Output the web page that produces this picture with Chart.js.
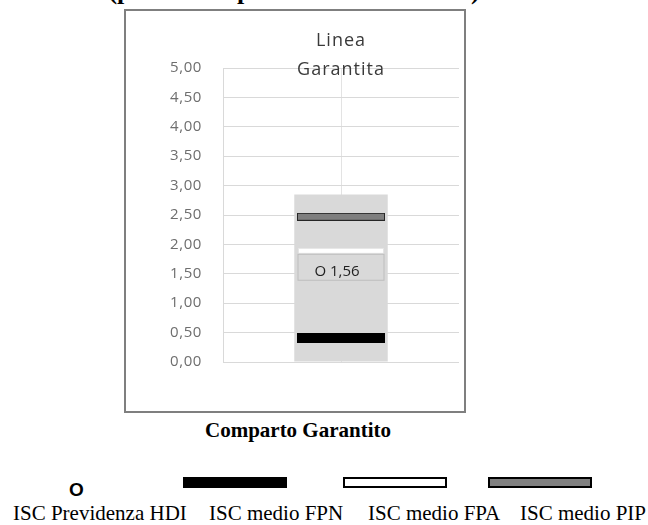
<!DOCTYPE html>
<html>
<head>
<meta charset="utf-8">
<script src="https://cdn.jsdelivr.net/npm/chart.js@4.4.1/dist/chart.umd.min.js"></script>
<style>
  html, body { margin: 0; padding: 0; background: #fff; }
  body { position: relative; width: 648px; height: 525px; overflow: hidden; }
  .serif { position: absolute; font-family: "Liberation Serif", "Times New Roman", serif; line-height: 1; white-space: nowrap; color: #000; }
  #box { position: absolute; left: 124px; top: 9px; width: 342px; height: 404px; border: 2px solid #7f7f7f; box-sizing: border-box; }
  #wrap { position: relative; width: 338px; height: 400px; }
  .leg { position: absolute; }
</style>
</head>
<body>
<div class="serif" id="topTitle" style="top:-22px; left:0; width:588px; text-align:center; font-size:26px; font-weight:bold;"></div>
<div id="box"><div id="wrap"><canvas id="isc-chart"></canvas></div></div>
<div class="serif" id="catTitle" style="top:420px; left:0; width:596px; text-align:center; font-size:21px; font-weight:bold;"></div>
<div id="legend"></div>

<script>
// Data
var pageTitle = '(periodo di permanenza: 10 anni)';
var chartTitle = ['Linea', 'Garantita'];
var categories = ['Comparto Garantito'];
var rangeMin = [0];
var rangeMax = [2.85];
var iscHdi = [1.56];
var iscFpn = [0.41];
var iscFpa = [1.89];
var iscPip = [2.47];
var seriesLabels = ['ISC Previdenza HDI', 'ISC medio FPN', 'ISC medio FPA', 'ISC medio PIP'];
var yTicks = [0, 0.5, 1, 1.5, 2, 2.5, 3, 3.5, 4, 4.5, 5];

function fmt(v) { return v.toFixed(2).replace('.', ','); }

// Little bar-shaped marker, used in the chart and in the legend
function makeBar(w, h, fill, stroke, lw) {
    var c = document.createElement('canvas');
    c.width = w; c.height = h;
    var x = c.getContext('2d');
    x.fillStyle = stroke || fill;
    x.fillRect(0, 0, w, h);
    if (stroke) {
        x.fillStyle = fill;
        x.fillRect(lw, lw, w - 2 * lw, h - 2 * lw);
    }
    return c;
}

document.getElementById('topTitle').textContent = pageTitle;
document.getElementById('catTitle').textContent = categories[0];

var fpnMark = makeBar(88, 10, '#000000');
var fpaMark = makeBar(86, 6, '#ffffff', '#e4e4e4', 1);
var pipMark = makeBar(88, 8, '#7f7f7f', '#262626', 1);

// Legend (HTML, below the chart)
(function() {
    var legend = document.getElementById('legend');
    var marks = [null, makeBar(104, 11, '#000000'), makeBar(104, 11, '#ffffff', '#000000', 2), makeBar(104, 11, '#808080', '#000000', 2)];
    var markLeft = [69, 183, 343, 488];
    var textLeft = [13, 209, 368, 520];
    seriesLabels.forEach(function(lbl, i) {
        if (marks[i]) {
            marks[i].className = 'leg';
            marks[i].style.left = markLeft[i] + 'px';
            marks[i].style.top = '477px';
            legend.appendChild(marks[i]);
        } else {
            var o = document.createElement('div');
            o.className = 'leg';
            o.textContent = 'O';
            o.style.cssText = 'left:' + markLeft[i] + 'px; top:480px; font:bold 19px "Liberation Sans", Arial, sans-serif; line-height:1;';
            legend.appendChild(o);
        }
        var t = document.createElement('div');
        t.className = 'serif';
        t.textContent = lbl;
        t.style.left = textLeft[i] + 'px';
        t.style.top = '503px';
        t.style.fontSize = '21px';
        legend.appendChild(t);
    });
})();

// Title inside the plot and the boxed label of the HDI point
var overlayPlugin = {
    id: 'overlay',
    beforeDraw: function(chart) {
        chart.ctx.letterSpacing = '0.6px';
    },
    afterDatasetsDraw: function(chart) {
        var ctx = chart.ctx;
        var area = chart.chartArea;
        var cx = (area.left + area.right) / 2;
        ctx.save();
        ctx.letterSpacing = '1px';
        ctx.fillStyle = '#3a3a3a';
        ctx.font = '18px "Open Sans", sans-serif';
        ctx.textAlign = 'center';
        ctx.textBaseline = 'alphabetic';
        ctx.fillText(chartTitle[0], cx, 35);
        ctx.fillText(chartTitle[1], cx, 64);

        var pt = chart.getDatasetMeta(1).data[0];
        var bw = 87, bh = 27;
        var bx = pt.x - bw / 2, by = pt.y - 3 - bh / 2;
        ctx.fillStyle = '#d9d9d9';
        ctx.fillRect(bx, by, bw, bh);
        ctx.strokeStyle = '#bdbdbd';
        ctx.lineWidth = 1;
        ctx.strokeRect(bx + 0.5, by + 0.5, bw - 1, bh - 1);
        ctx.letterSpacing = '0px';
        ctx.fillStyle = '#1f1f1f';
        ctx.font = '15px "Open Sans", sans-serif';
        ctx.textBaseline = 'middle';
        ctx.fillText('O ' + fmt(iscHdi[0]), pt.x - 4, pt.y + 1);
        ctx.restore();
    }
};

new Chart(document.getElementById('isc-chart').getContext('2d'), {
    type: 'bar',
    data: {
        labels: categories,
        datasets: [{
            label: 'range',
            data: categories.map(function(c, i) { return [rangeMin[i], rangeMax[i]]; }),
            backgroundColor: '#d9d9d9',
            borderWidth: 0,
            barPercentage: 0.396,
            categoryPercentage: 1,
            grouped: false,
            order: 1
        }, {
            type: 'line',
            label: seriesLabels[0],
            data: iscHdi,
            showLine: false,
            pointRadius: 0,
            order: 0
        }, {
            type: 'line',
            label: seriesLabels[1],
            data: iscFpn,
            showLine: false,
            pointStyle: fpnMark,
            pointRadius: 1,
            order: 0
        }, {
            type: 'line',
            label: seriesLabels[2],
            data: iscFpa,
            showLine: false,
            pointStyle: fpaMark,
            pointRadius: 1,
            order: 0
        }, {
            type: 'line',
            label: seriesLabels[3],
            data: iscPip,
            showLine: false,
            pointStyle: pipMark,
            pointRadius: 1,
            order: 0
        }]
    },
    options: {
        responsive: true,
        maintainAspectRatio: false,
        animation: false,
        events: [],
        layout: { padding: { top: 57, bottom: 49, left: 0, right: 1 } },
        plugins: {
            legend: { display: false },
            tooltip: { enabled: false }
        },
        scales: {
            x: {
                grid: { offset: false, color: '#e3e3e3', drawTicks: false },
                border: { display: false },
                ticks: { display: false }
            },
            y: {
                min: yTicks[0],
                max: yTicks[yTicks.length - 1],
                afterBuildTicks: function(scale) {
                    scale.ticks = yTicks.map(function(v) { return { value: v }; });
                },
                afterFit: function(scale) { scale.width = 97; },
                grid: { color: '#d9d9d9', drawTicks: false },
                border: { color: '#d9d9d9' },
                ticks: {
                    padding: 21,
                    color: '#6e6e6e',
                    font: { family: 'Open Sans', size: 15 },
                    callback: function(v) { return fmt(v); }
                }
            }
        }
    },
    plugins: [overlayPlugin]
});
</script>
</body>
</html>
